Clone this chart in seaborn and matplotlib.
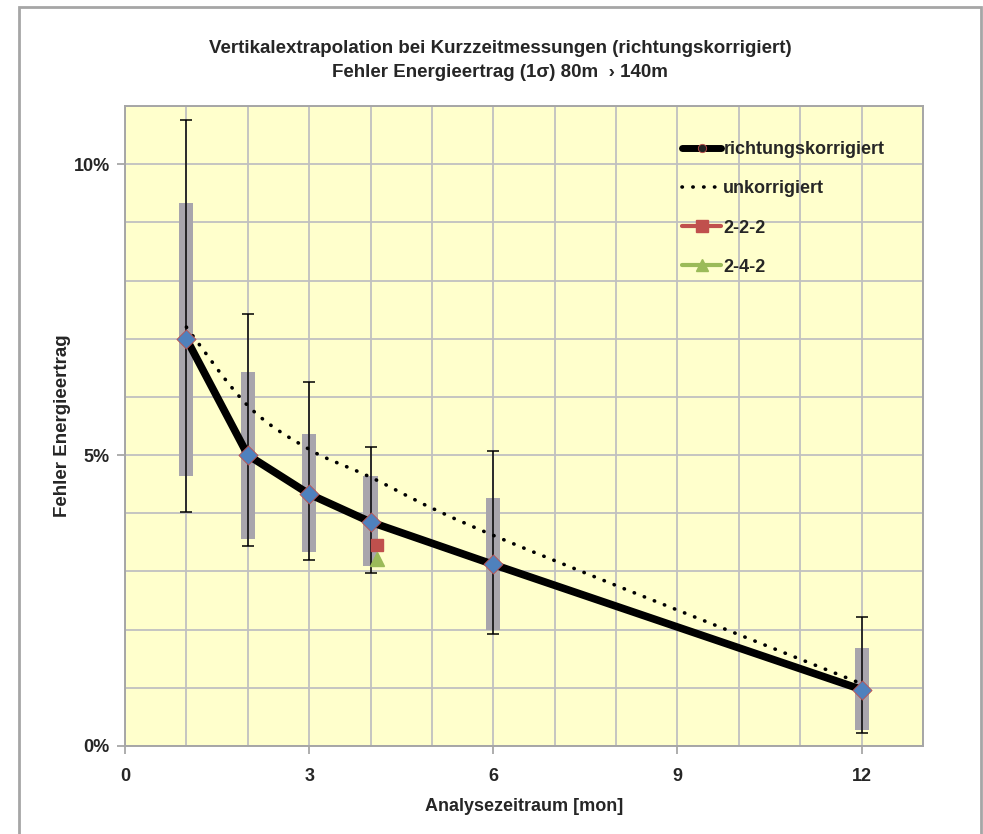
import numpy as np
import pandas as pd
import seaborn as sns
import matplotlib
matplotlib.use("Agg")
import matplotlib.pyplot as plt
from matplotlib.path import Path
from matplotlib.patches import PathPatch, Rectangle
from matplotlib.lines import Line2D
from matplotlib.ticker import MultipleLocator, FuncFormatter

# --- data -------------------------------------------------------------
months = [1, 2, 3, 4, 6, 12]
err_corrected = [7.0, 5.0, 4.33, 3.85, 3.12, 0.97]       # % (richtungskorrigiert)
err_uncorrected = [7.2, 5.85, 5.1, 4.62, 3.62, 1.07]     # % (unkorrigiert)
band_low = [4.64, 3.55, 3.34, 3.09, 2.00, 0.28]          # grey band (1 sigma)
band_high = [9.34, 6.43, 5.36, 4.64, 4.26, 1.69]
whisker_low = [4.03, 3.43, 3.19, 2.98, 1.93, 0.22]       # min / max range
whisker_high = [10.76, 7.43, 6.26, 5.14, 5.07, 2.21]
case_222 = (4.1, 3.45)
case_242 = (4.1, 3.22)

x_ticks = [0, 3, 6, 9, 12]
y_ticks = [0, 5, 10]

title = "Vertikalextrapolation bei Kurzzeitmessungen (richtungskorrigiert)\nFehler Energieertrag (1σ) 80m  \u203a 140m"
xlabel = "Analysezeitraum [mon]"
ylabel = "Fehler Energieertrag"

# --- style ------------------------------------------------------------
sns.set_theme(style="white")
plt.rcParams["font.family"] = ["Liberation Sans", "DejaVu Sans"]
plt.rcParams["font.weight"] = "bold"

BLUE = "#4F81BD"
RED = "#C0504D"
GREEN = "#9BBB59"
GRID = "#C0C0C0"
DOTS = (0, (0.1, 2.9))

df = pd.DataFrame({"months": months, "corr": err_corrected})

fig = plt.figure(figsize=(9.83, 8.34), dpi=100)
ax = fig.add_axes([125 / 983, 88 / 834, 798 / 983, 640 / 834])
ax.set_facecolor("#FFFFCC")

ax.set_xlim(0, 13)
ax.set_ylim(0, 11)
ax.xaxis.set_major_locator(MultipleLocator(3))
ax.xaxis.set_minor_locator(MultipleLocator(1))
ax.yaxis.set_major_locator(MultipleLocator(5))
ax.yaxis.set_minor_locator(MultipleLocator(1))
ax.yaxis.set_major_formatter(FuncFormatter(lambda v, _: f"{v:.0f}%"))
ax.grid(which="both", color=GRID, linewidth=1.3, zorder=0)
ax.set_axisbelow(True)
ax.tick_params(axis="both", which="major", length=6, width=1.2, color="#A0A0A0",
               labelsize=13, bottom=True, left=True)
ax.tick_params(axis="x", which="major", pad=10)
ax.tick_params(axis="y", which="major", pad=5)
ax.tick_params(axis="both", which="minor", length=0)
for side, sp in ax.spines.items():
    sp.set_color("#A6A6A6")
    sp.set_linewidth(1.4)

# grey 1-sigma bands
ax.bar(months, np.array(band_high) - np.array(band_low), bottom=band_low,
       width=0.23, color="#A8A5AC", zorder=2, linewidth=0)

# min/max whiskers
mid = np.array(err_corrected)
ax.errorbar(months, mid, yerr=[mid - np.array(whisker_low), np.array(whisker_high) - mid],
            fmt="none", ecolor="black", elinewidth=1.1, capsize=4, capthick=1.1, zorder=3)


def smooth_path(xs, ys, k=1 / 6):
    """Bezier path through the points (Catmull-Rom style smoothing)."""
    pts = np.column_stack([xs, ys]).astype(float)
    verts = [pts[0]]
    codes = [Path.MOVETO]
    n = len(pts)
    for i in range(n - 1):
        p0 = pts[i - 1] if i > 0 else pts[i]
        p1, p2 = pts[i], pts[i + 1]
        p3 = pts[i + 2] if i + 2 < n else pts[i + 1]
        c1 = p1 + (p2 - p0) * k
        c2 = p2 - (p3 - p1) * k
        verts += [c1, c2, p2]
        codes += [Path.CURVE4] * 3
    return Path(verts, codes)


# uncorrected: smooth dotted curve
ax.add_patch(PathPatch(smooth_path(months, err_uncorrected), fill=False, edgecolor="black",
                       linewidth=2.6, linestyle=DOTS, capstyle="round", zorder=4))
# corrected: thick black line
sns.lineplot(data=df, x="months", y="corr", color="black", linewidth=5.5, ax=ax,
             zorder=5, legend=False, solid_joinstyle="round", solid_capstyle="butt")

sns.scatterplot(data=df, x="months", y="corr", marker="D", s=95, color=BLUE,
                edgecolor=RED, linewidth=0.6, ax=ax, zorder=6, legend=False)
ax.plot([case_222[0]], [case_222[1]], marker="s", markersize=9, color=RED, linestyle="none", zorder=6)
ax.plot([case_242[0]], [case_242[1]], marker="^", markersize=10, color=GREEN, linestyle="none", zorder=6)

ax.set_xlabel(xlabel, fontsize=13, fontweight="bold", labelpad=9)
ax.set_ylabel(ylabel, fontsize=13.5, fontweight="bold")
ax.yaxis.set_label_coords(-0.068, 0.5)
ax.set_xlim(0, 13)
ax.set_ylim(0, 11)
ax.set_xticks(x_ticks)
ax.set_yticks(y_ticks)

handles = [
    Line2D([], [], color="black", linewidth=5, marker="o", markersize=6,
           markerfacecolor="#222222", markeredgecolor=RED, markeredgewidth=0.6),
    Line2D([], [], color="black", linewidth=2.6, linestyle=DOTS, dash_capstyle="round"),
    Line2D([], [], color=RED, linewidth=3, marker="s", markersize=8),
    Line2D([], [], color=GREEN, linewidth=3, marker="^", markersize=9),
]
labels = ["richtungskorrigiert", "unkorrigiert", "2-2-2", "2-4-2"]
leg = ax.legend(handles, labels, loc="upper left", bbox_to_anchor=(0.678, 0.97),
                frameon=False, handlelength=2.15, handletextpad=0.12,
                labelspacing=1.22, prop={"weight": "bold", "size": 13})

fig.text(0.5085, 0.952, title, ha="center", va="top", fontsize=13.5, fontweight="bold",
         linespacing=1.5)

# outer chart frame
fig.patches.append(Rectangle((19 / 983, -0.05), 962 / 983, 1.05 - 7 / 834,
                             transform=fig.transFigure, fill=False,
                             edgecolor="#A6A6A6", linewidth=2))

fig.savefig("out.png", dpi=100)
